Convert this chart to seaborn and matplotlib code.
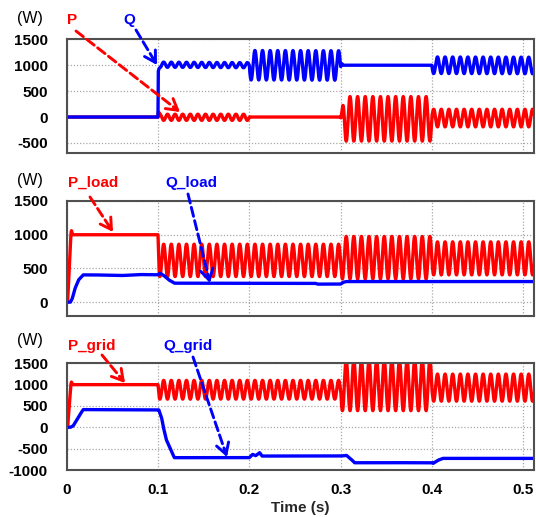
import numpy as np
import pandas as pd
import matplotlib
matplotlib.use("Agg")
import matplotlib.pyplot as plt
from matplotlib.patches import FancyArrowPatch
import seaborn as sns

FIG_W, FIG_H = 536, 517

# ---------------- data ----------------
T_END = 0.512
DT = 0.00005
RIPPLE_HZ = 120          # 12 ripple cycles per 0.1 s, counted on the chart

x_ticks = [0, 0.1, 0.2, 0.3, 0.4, 0.5]
x_ticklabels = ["0", "0.1", "0.2", "0.3", "0.4", "0.5"]

# panel 1 : P and Q
P_mean_t = [0, 0.1, 0.1004, 0.102, 0.2, 0.2005, 0.3, 0.3005, 0.4, 0.4005, T_END]
P_mean_v = [0, 0, 80, -5, -5, 0, 0, -35, -35, -20, -20]
P_amp_t = [0, 0.1, 0.1005, 0.2, 0.2005, 0.3, 0.304, 0.4, 0.4005, T_END]
P_amp_v = [0, 0, 60, 60, 0, 0, 430, 430, 170, 170]

Q_mean_t = [0, 0.1, 0.1003, 0.101, 0.104, 0.2, 0.3, 0.3015, 0.303, 0.4, T_END]
Q_mean_v = [0, 0, 880, 930, 1010, 1000, 995, 1030, 1000, 1000, 995]
Q_amp_t = [0, 0.102, 0.104, 0.2, 0.2005, 0.3, 0.3005, 0.4, 0.4005, T_END]
Q_amp_v = [0, 0, 50, 50, 285, 285, 0, 0, 160, 160]

# panel 2 : P_load and Q_load
Pl_mean_t = [0, 0.001, 0.0045, 0.0052, 0.0065, 0.1, 0.1015, 0.3, 0.3005, 0.4, 0.4005, T_END]
Pl_mean_v = [0, 0, 1000, 1060, 1000, 1000, 620, 620, 660, 660, 650, 650]
Pl_amp_t = [0, 0.1, 0.1005, 0.3, 0.3005, 0.4, 0.4005, T_END]
Pl_amp_v = [0, 0, 240, 240, 315, 315, 245, 245]

Ql_mean_t = [0, 0.004, 0.006, 0.009, 0.013, 0.018, 0.03, 0.06, 0.08, 0.1, 0.102,
             0.106, 0.112, 0.118, 0.2, 0.272, 0.275, 0.3, 0.303, 0.306, T_END]
Ql_mean_v = [0, 0, 50, 200, 330, 405, 405, 395, 410, 405, 430,
             400, 330, 282, 281, 281, 268, 268, 295, 306, 306]

# panel 3 : P_grid and Q_grid
Pg_mean_t = [0, 0.001, 0.0045, 0.0052, 0.0065, 0.1, 0.1015, 0.3, 0.3005, 0.4, 0.4005, T_END]
Pg_mean_v = [0, 0, 1000, 1060, 1000, 1000, 880, 880, 980, 980, 930, 930]
Pg_amp_t = [0, 0.1, 0.1005, 0.3, 0.3005, 0.4, 0.4005, T_END]
Pg_amp_v = [0, 0, 220, 220, 590, 590, 318, 318]

Qg_mean_t = [0, 0.004, 0.007, 0.0125, 0.018, 0.1, 0.101, 0.104, 0.1057, 0.109, 0.113,
             0.1153, 0.118, 0.2, 0.2036, 0.207, 0.2114, 0.214, 0.3, 0.3065, 0.3118,
             0.3154, 0.33, 0.4, 0.4014, 0.407, 0.412, T_END]
Qg_mean_v = [0, 0, 31, 227, 415, 410, 406, 221, 25, -282, -477,
             -594, -711, -712, -634, -665, -595, -673, -673, -657, -751,
             -830, -829, -829, -845, -770, -728, -728]

RED = "#FF0000"
BLUE = "#0000FF"


def build(mean_t, mean_v, amp_t=None, amp_v=None, sign=1.0):
    t = np.arange(0, T_END, DT)
    v = np.interp(t, mean_t, mean_v)
    if amp_t is not None:
        v = v + sign * np.interp(t, amp_t, amp_v) * np.sin(2 * np.pi * RIPPLE_HZ * t)
    return pd.DataFrame({"t": t, "v": v})


# ---------------- figure ----------------
sns.set_theme(style="white")
plt.rcParams["font.family"] = ["Liberation Sans", "DejaVu Sans"]
plt.rcParams["font.weight"] = "bold"

fig = plt.figure(figsize=(FIG_W / 100, FIG_H / 100), dpi=100)
fig.patch.set_facecolor("white")


def axes_px(left, top, right, bottom):
    return fig.add_axes([left / FIG_W, 1 - bottom / FIG_H,
                         (right - left) / FIG_W, (bottom - top) / FIG_H])


panels = [
    dict(box=(66.7, 39.3, 534, 153.3), ylim=(-700, 1500), yticks=[-500, 0, 500, 1000, 1500],
         series=[(build(P_mean_t, P_mean_v, P_amp_t, P_amp_v, 1.0), RED),
                 (build(Q_mean_t, Q_mean_v, Q_amp_t, Q_amp_v, -1.0), BLUE)]),
    dict(box=(66.7, 201, 534, 315.7), ylim=(-200, 1500), yticks=[0, 500, 1000, 1500],
         series=[(build(Pl_mean_t, Pl_mean_v, Pl_amp_t, Pl_amp_v, -1.0), RED),
                 (build(Ql_mean_t, Ql_mean_v), BLUE)]),
    dict(box=(66.7, 363.3, 534, 470), ylim=(-1000, 1500), yticks=[-1000, -500, 0, 500, 1000, 1500],
         series=[(build(Pg_mean_t, Pg_mean_v, Pg_amp_t, Pg_amp_v, -1.0), RED),
                 (build(Qg_mean_t, Qg_mean_v), BLUE)]),
]

axes = []
for i, pnl in enumerate(panels):
    ax = axes_px(*pnl["box"])
    for df, col in pnl["series"]:
        sns.lineplot(data=df, x="t", y="v", ax=ax, color=col, lw=2.4,
                     estimator=None, sort=False, legend=False)
    ax.set_xlim(0, T_END)
    ax.set_ylim(*pnl["ylim"])
    ax.set_yticks(pnl["yticks"])
    ax.set_yticklabels([str(v) for v in pnl["yticks"]], fontsize=11, fontweight="bold")
    ax.set_xticks(x_ticks)
    if i == 2:
        ax.set_xticklabels(x_ticklabels, fontsize=11, fontweight="bold")
        ax.set_xlabel("Time (s)", fontsize=11, fontweight="bold", labelpad=3.5)
    else:
        ax.set_xticklabels([])
        ax.set_xlabel("")
    ax.set_ylabel("")
    ax.tick_params(axis="both", length=0, colors="black")
    ax.tick_params(axis="y", pad=13.5)
    ax.tick_params(axis="x", pad=9)
    ax.grid(True, color="#A8A8A8", linestyle=(0, (1, 1.5)), lw=0.9)
    for sp in ax.spines.values():
        sp.set_color("#505050")
        sp.set_linewidth(1.5)
    axes.append(ax)


def ftxt(x, y, s, color="black", weight="bold", size=11):
    fig.text(x / FIG_W, 1 - y / FIG_H, s, color=color, fontsize=size, fontweight=weight,
             ha="center", va="center")


def farrow(x0, y0, x1, y1, color):
    p0 = (x0 / FIG_W, 1 - y0 / FIG_H)
    p1 = (x1 / FIG_W, 1 - y1 / FIG_H)
    dx, dy = x1 - x0, y1 - y0
    L = np.hypot(dx, dy)
    pm = ((x1 - dx / L * 3) / FIG_W, 1 - (y1 - dy / L * 3) / FIG_H)
    shaft = FancyArrowPatch(p0, pm, transform=fig.transFigure, arrowstyle="-",
                            color=color, lw=2.1, linestyle=(0, (3.2, 1.5)),
                            shrinkA=0, shrinkB=0)
    fig.add_artist(shaft)
    pb = ((x1 - dx / L * 8) / FIG_W, 1 - (y1 - dy / L * 8) / FIG_H)
    head = FancyArrowPatch(pb, p1, transform=fig.transFigure,
                           arrowstyle="->,head_length=0.65,head_width=0.38",
                           color=color, lw=2.1, mutation_scale=12, shrinkA=0, shrinkB=0)
    fig.add_artist(head)


# unit labels
ftxt(30, 19, "(W)", weight="normal", size=11.5)
ftxt(30, 180, "(W)", weight="normal", size=11.5)
ftxt(30, 341, "(W)", weight="normal", size=11.5)

# series labels and arrows
ftxt(72, 20, "P", RED)
ftxt(129, 20, "Q", BLUE)
farrow(76, 31, 180, 112, RED)
farrow(136, 30, 157, 65, BLUE)

ftxt(93, 183, "P_load", RED)
ftxt(191, 183, "Q_load", BLUE)
farrow(90, 197, 113, 232, RED)
farrow(188, 194, 210, 283, BLUE)

ftxt(92, 346, "P_grid", RED)
ftxt(188, 346, "Q_grid", BLUE)
farrow(102, 355, 125, 383, RED)
farrow(193, 357, 227, 457, BLUE)

fig.savefig("out.png", dpi=100, facecolor="white")
